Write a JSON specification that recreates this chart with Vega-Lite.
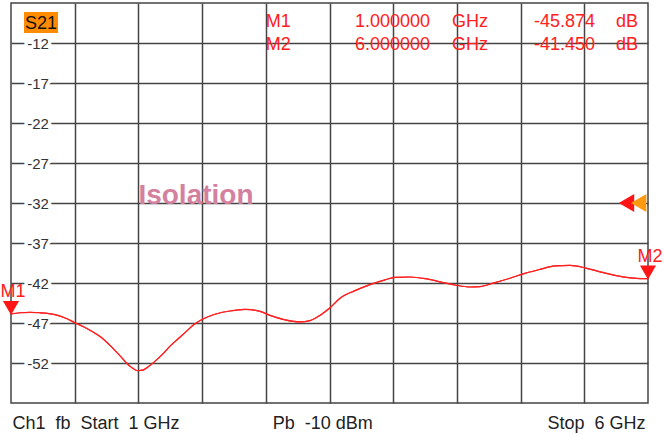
{
  "$schema": "https://vega.github.io/schema/vega-lite/v6.json",
  "width": 637,
  "height": 400,
  "autosize": {"type": "none"},
  "padding": {"left": 11, "top": 3, "right": 15, "bottom": 32},
  "background": "white",
  "config": {
    "view": {"stroke": "#444", "strokeWidth": 1.5},
    "font": "Liberation Sans",
    "locale": {"number": {"decimal": ".", "thousands": ",", "grouping": [3], "currency": ["$", ""], "minus": "-"}}
  },
  "datasets": {
    "trace": [
      {"f": 1.0, "db": -45.87}, {"f": 1.071, "db": -45.72}, {"f": 1.15, "db": -45.68}, {"f": 1.228, "db": -45.72},
      {"f": 1.345, "db": -45.95}, {"f": 1.42, "db": -46.35}, {"f": 1.502, "db": -46.96}, {"f": 1.56, "db": -47.4},
      {"f": 1.62, "db": -47.9}, {"f": 1.699, "db": -48.7}, {"f": 1.777, "db": -49.8}, {"f": 1.856, "db": -51.1},
      {"f": 1.934, "db": -52.4}, {"f": 1.997, "db": -52.95}, {"f": 2.04, "db": -52.85}, {"f": 2.075, "db": -52.5},
      {"f": 2.13, "db": -51.8}, {"f": 2.19, "db": -50.9}, {"f": 2.248, "db": -49.9}, {"f": 2.31, "db": -49.0},
      {"f": 2.366, "db": -48.2}, {"f": 2.444, "db": -47.1}, {"f": 2.507, "db": -46.5}, {"f": 2.601, "db": -45.9},
      {"f": 2.719, "db": -45.5}, {"f": 2.837, "db": -45.3}, {"f": 2.954, "db": -45.55}, {"f": 3.033, "db": -46.05},
      {"f": 3.151, "db": -46.6}, {"f": 3.268, "db": -46.85}, {"f": 3.347, "db": -46.7}, {"f": 3.425, "db": -46.05},
      {"f": 3.504, "db": -45.1}, {"f": 3.582, "db": -43.9}, {"f": 3.7, "db": -42.95}, {"f": 3.818, "db": -42.2},
      {"f": 3.936, "db": -41.6}, {"f": 4.014, "db": -41.3}, {"f": 4.132, "db": -41.25}, {"f": 4.25, "db": -41.45},
      {"f": 4.367, "db": -41.85}, {"f": 4.485, "db": -42.25}, {"f": 4.603, "db": -42.5}, {"f": 4.682, "db": -42.45},
      {"f": 4.799, "db": -41.95}, {"f": 4.917, "db": -41.4}, {"f": 5.034, "db": -40.8}, {"f": 5.152, "db": -40.3},
      {"f": 5.27, "db": -39.85}, {"f": 5.388, "db": -39.8}, {"f": 5.505, "db": -40.1}, {"f": 5.623, "db": -40.6},
      {"f": 5.741, "db": -41.05}, {"f": 5.859, "db": -41.35}, {"f": 5.94, "db": -41.45}, {"f": 6.0, "db": -41.45}
    ],
    "markers": [{"m": "M1", "f": 1.0, "db": -45.874}, {"m": "M2", "f": 6.0, "db": -41.45}],
    "ylabels": [{"v": -12}, {"v": -17}, {"v": -22}, {"v": -27}, {"v": -32}, {"v": -37}, {"v": -42}, {"v": -47}, {"v": -52}],
    "ref": [{"level": -32}]
  },
  "resolve": {"scale": {"y": "independent"}},
  "layer": [
    {
      "layer": [
        {
          "data": {"name": "trace"},
          "mark": {"type": "line", "color": "#ff2020", "strokeWidth": 1.2, "interpolate": "monotone"},
          "encoding": {
            "x": {
              "field": "f", "type": "quantitative",
              "scale": {"domain": [1, 6], "nice": false, "zero": false},
              "axis": {
                "values": [1.008, 1.5, 2, 2.5, 3, 3.05, 3.5, 4, 4.5, 5, 5.5, 5.976],
                "grid": true, "gridColor": "#444", "gridWidth": 1.5,
                "gridOpacity": {"condition": {"test": "datum.value == 1.008 || datum.value == 3.05 || datum.value == 5.976", "value": 0}, "value": 1},
                "ticks": false, "tickSize": 0, "domain": false, "title": null,
                "labelExpr": "datum.value == 1.008 ? 'Ch1\u00a0 fb\u00a0 Start\u00a0 1 GHz' : datum.value == 3.05 ? 'Pb\u00a0 -10 dBm' : datum.value == 5.976 ? 'Stop\u00a0 6 GHz' : ''",
                "labelAlign": {"condition": {"test": "datum.value > 5.9", "value": "right"}, "value": "left"},
                "labelBaseline": "alphabetic",
                "labelPadding": 25,
                "labelFontSize": 18, "labelColor": "#222", "labelFont": "Liberation Sans",
                "labelOverlap": false, "labelBound": false, "labelFlush": false
              }
            },
            "y": {
              "field": "db", "type": "quantitative",
              "scale": {"domain": [-57, -7], "nice": false, "zero": false},
              "axis": {
                "values": [-52, -47, -42, -37, -32, -27, -22, -17, -12],
                "grid": true, "gridColor": "#444", "gridWidth": 1.5,
                "labels": false, "ticks": false, "domain": false, "title": null
              }
            }
          }
        },
        {
          "data": {"name": "ylabels"},
          "mark": {"type": "text", "align": "center", "baseline": "middle", "fontSize": 15, "dx": 27, "dy": 1, "color": "white", "stroke": "white", "strokeWidth": 7},
          "encoding": {"x": {"datum": 1}, "y": {"field": "v", "type": "quantitative"}, "text": {"field": "v", "type": "quantitative", "format": "d"}}
        },
        {
          "data": {"name": "ylabels"},
          "mark": {"type": "text", "align": "center", "baseline": "middle", "fontSize": 15, "dx": 27, "dy": 1, "color": "#333"},
          "encoding": {"x": {"datum": 1}, "y": {"field": "v", "type": "quantitative"}, "text": {"field": "v", "type": "quantitative", "format": "d"}}
        },
        {
          "data": {"name": "trace"},
          "mark": {"type": "line", "color": "#ff2020", "strokeWidth": 1.2, "interpolate": "monotone"},
          "encoding": {"x": {"field": "f", "type": "quantitative"}, "y": {"field": "db", "type": "quantitative"}}
        },
        {
          "data": {"values": [{"label": "Isolation"}]},
          "mark": {"type": "text", "align": "left", "baseline": "alphabetic", "fontSize": 28, "fontWeight": "bold", "color": "#d4809f", "dy": 1},
          "encoding": {"x": {"datum": 2.0}, "y": {"datum": -32}, "text": {"field": "label"}}
        },
        {
          "data": {"values": [{"label": "S21"}]},
          "mark": {"type": "rect", "color": "#ff8c00"},
          "encoding": {"x": {"datum": 1.102}, "x2": {"datum": 1.369}, "y": {"datum": -8.125}, "y2": {"datum": -10.75}}
        },
        {
          "data": {"values": [{"label": "S21"}]},
          "mark": {"type": "text", "align": "left", "baseline": "alphabetic", "fontSize": 18, "color": "#111"},
          "encoding": {"x": {"datum": 1.11}, "y": {"datum": -10.25}, "text": {"field": "label"}}
        },
        {
          "data": {"name": "ref"},
          "mark": {"type": "point", "shape": "triangle-left", "filled": true, "size": 320, "color": "#ff1515", "opacity": 1},
          "encoding": {"x": {"datum": 5.831}, "y": {"field": "level", "type": "quantitative"}}
        },
        {
          "data": {"name": "ref"},
          "mark": {"type": "point", "shape": "triangle-left", "filled": true, "size": 320, "color": "#ff9a10", "opacity": 1},
          "encoding": {"x": {"datum": 5.926}, "y": {"field": "level", "type": "quantitative"}}
        },
        {
          "data": {"name": "markers"},
          "mark": {"type": "point", "shape": "triangle-down", "filled": true, "size": 260, "color": "#ff1515", "opacity": 1, "yOffset": -6},
          "encoding": {"x": {"field": "f", "type": "quantitative"}, "y": {"field": "db", "type": "quantitative"}}
        },
        {
          "data": {"name": "markers"},
          "mark": {"type": "text", "align": "center", "baseline": "alphabetic", "fontSize": 18, "color": "#ff2020", "dy": -17, "dx": 2},
          "encoding": {"x": {"field": "f", "type": "quantitative"}, "y": {"field": "db", "type": "quantitative"}, "text": {"field": "m"}}
        }
      ]
    },
    {
      "data": {"name": "markers"},
      "encoding": {"y": {"field": "m", "type": "nominal", "scale": {"range": [24, 47], "padding": 0}, "axis": null}},
      "layer": [
        {
          "mark": {"type": "text", "align": "left", "baseline": "alphabetic", "fontSize": 18, "color": "#ff2020"},
          "encoding": {"x": {"datum": 3.0}, "text": {"field": "m"}}
        },
        {
          "mark": {"type": "text", "align": "right", "baseline": "alphabetic", "fontSize": 18, "color": "#ff2020"},
          "encoding": {"x": {"datum": 4.289}, "text": {"field": "f", "type": "quantitative", "format": ".6f"}}
        },
        {
          "mark": {"type": "text", "align": "left", "baseline": "alphabetic", "fontSize": 18, "color": "#ff2020"},
          "encoding": {"x": {"datum": 4.462}, "text": {"value": "GHz"}}
        },
        {
          "mark": {"type": "text", "align": "right", "baseline": "alphabetic", "fontSize": 18, "color": "#ff2020"},
          "encoding": {"x": {"datum": 5.584}, "text": {"field": "db", "type": "quantitative", "format": ".3f"}}
        },
        {
          "mark": {"type": "text", "align": "left", "baseline": "alphabetic", "fontSize": 18, "color": "#ff2020"},
          "encoding": {"x": {"datum": 5.749}, "text": {"value": "dB"}}
        }
      ]
    }
  ]
}
